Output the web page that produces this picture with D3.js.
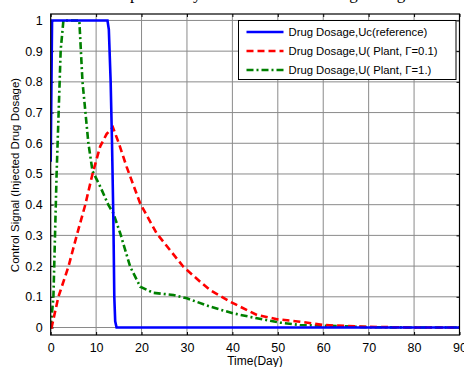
<!DOCTYPE html>
<html><head><meta charset="utf-8">
<script src="https://cdn.jsdelivr.net/npm/d3@7"></script>
<style>body{margin:0;background:#fff}svg{display:block}</style>
</head><body>
<script>
const titleText = "Comparison by Fractional Order Drug Dosage";
const xLabel = "Time(Day)";
const yLabel = "Control Signal (Injected Drug Dosage)";
const xTicks = [0,10,20,30,40,50,60,70,80,90];
const yTicks = [0,0.1,0.2,0.3,0.4,0.5,0.6,0.7,0.8,0.9,1];
const legendLabels = ["Drug Dosage,Uc(reference)", "Drug Dosage,U( Plant, \u0393=0.1)", "Drug Dosage,U( Plant, \u0393=1.)"];

const refT = [0,0.3,12.5,12.8,13.2,13.5,13.8,14.0,14.2,14.5,90];
const refU = [0.54,1,1,0.97,0.8,0.6,0.35,0.1,0.02,0,0];

const redT = [0,0.2,1.7,3.9,5.7,7.6,9.2,10.9,12.3,13.7,15.0,16.7,19.7,23.3,29.2,32.9,35.1,39.5,45.4,49.8,54.9,60,70,80,90];
const redU = [0,0,0.1,0.198,0.298,0.399,0.5,0.59,0.63,0.652,0.6,0.524,0.404,0.307,0.198,0.149,0.122,0.084,0.041,0.027,0.019,0.008,0.002,0,0];

const grnT = [0,0.6,1.3,2.2,2.8,6.3,7.0,8.3,9.2,10.9,12.7,13.8,15.3,17.5,19.7,22.6,27.0,30,35.1,40.2,45.4,50.5,54.9,60,70,80,90];
const grnU = [0,0.1,0.5,0.904,1,1,0.8,0.6,0.51,0.459,0.399,0.372,0.307,0.198,0.133,0.113,0.106,0.095,0.068,0.046,0.03,0.016,0.008,0.006,0.001,0,0];

const W = 464, H = 367;
const L = 50.7, R = 459.5, T = 14, B = 335;
const x = d3.scaleLinear().domain([0,90]).range([L,R]);
const y = d3.scaleLinear().domain([-0.0244,1.021]).range([B,T]);

const svg = d3.select("body").append("svg").attr("width",W).attr("height",H);
const font = "'Liberation Sans', Arial, sans-serif";

// title (mostly cut off at top)
svg.append("text").attr("x",255).attr("y",-1).attr("text-anchor","middle")
  .attr("font-family","'Liberation Serif', 'Times New Roman', serif").attr("font-size",17)
  .text(titleText);

// grid
const g = svg.append("g");
g.selectAll("line.gx").data(xTicks.slice(1,-1)).enter().append("line")
  .attr("x1",d=>x(d)).attr("x2",d=>x(d)).attr("y1",T).attr("y2",B)
  .attr("stroke","#8a8a8a").attr("stroke-width",1);
g.selectAll("line.gy").data(yTicks).enter().append("line")
  .attr("y1",d=>y(d)).attr("y2",d=>y(d)).attr("x1",L).attr("x2",R)
  .attr("stroke","#8a8a8a").attr("stroke-width",1);

// axes (ticks inward)
const xb = d3.axisBottom(x).tickValues(xTicks).tickSizeInner(-3).tickSizeOuter(0).tickPadding(8);
const xt = d3.axisTop(x).tickValues(xTicks).tickSizeInner(-3).tickSizeOuter(0).tickFormat("");
const yl = d3.axisLeft(y).tickValues(yTicks).tickSizeInner(-3).tickSizeOuter(0).tickPadding(8).tickFormat(d3.format("~g"));
const yr = d3.axisRight(y).tickValues(yTicks).tickSizeInner(-3).tickSizeOuter(0).tickFormat("");
function style(sel){
  sel.select(".domain").remove();
  sel.selectAll("line").attr("stroke","#000");
  sel.selectAll("text").attr("font-family",font).attr("font-size",12.5).attr("fill","#000");
}
svg.append("g").attr("transform",`translate(0,${B})`).call(xb).call(style);
svg.append("g").attr("transform",`translate(0,${T})`).call(xt).call(style);
svg.append("g").attr("transform",`translate(${L},0)`).call(yl).call(style);
svg.append("g").attr("transform",`translate(${R},0)`).call(yr).call(style);

// lines
const clip = svg.append("clipPath").attr("id","c").append("rect")
  .attr("x",L).attr("y",T-2).attr("width",R-L).attr("height",B-T+2);
const line = d3.line().x(d=>x(d[0])).y(d=>y(d[1]));
const plot = svg.append("g").attr("clip-path","url(#c)");
plot.append("path").datum(grnT.map((t,i)=>[t,grnU[i]])).attr("d",line)
  .attr("fill","none").attr("stroke","#008000").attr("stroke-width",2.6).attr("stroke-dasharray","7,3,2,3");
plot.append("path").datum(redT.map((t,i)=>[t,redU[i]])).attr("d",line)
  .attr("fill","none").attr("stroke","#ff0000").attr("stroke-width",2.6).attr("stroke-dasharray","7,4");
plot.append("path").datum(refT.map((t,i)=>[t,refU[i]])).attr("d",line)
  .attr("fill","none").attr("stroke","#0000ff").attr("stroke-width",2.6);

// frame
svg.append("rect").attr("x",L).attr("y",T).attr("width",R-L).attr("height",B-T)
  .attr("fill","none").attr("stroke","#000").attr("stroke-width",1.2);

// legend
const lg = svg.append("g");
lg.append("rect").attr("x",238.5).attr("y",20.5).attr("width",217.5).attr("height",59)
  .attr("fill","#fff").attr("stroke","#000").attr("stroke-width",1);
const lstyles = [
  {c:"#0000ff", d:null},
  {c:"#ff0000", d:"7,4"},
  {c:"#008000", d:"7,3,2,3"}
];
legendLabels.forEach((lab,i)=>{
  const yy = 32 + i*19;
  const ln = lg.append("line").attr("x1",246.5).attr("x2",283.5).attr("y1",yy).attr("y2",yy)
    .attr("stroke",lstyles[i].c).attr("stroke-width",2.6);
  if(lstyles[i].d) ln.attr("stroke-dasharray",lstyles[i].d);
  lg.append("text").attr("x",288.5).attr("y",yy+4).attr("font-family",font).attr("font-size",11.3)
    .attr("fill","#000").text(lab);
});

// axis labels
svg.append("text").attr("x",255).attr("y",365).attr("text-anchor","middle")
  .attr("font-family",font).attr("font-size",12).text(xLabel);
svg.append("text").attr("transform","translate(19,175) rotate(-90)").attr("text-anchor","middle")
  .attr("font-family",font).attr("font-size",11.5).text(yLabel);
</script>
</body></html>
